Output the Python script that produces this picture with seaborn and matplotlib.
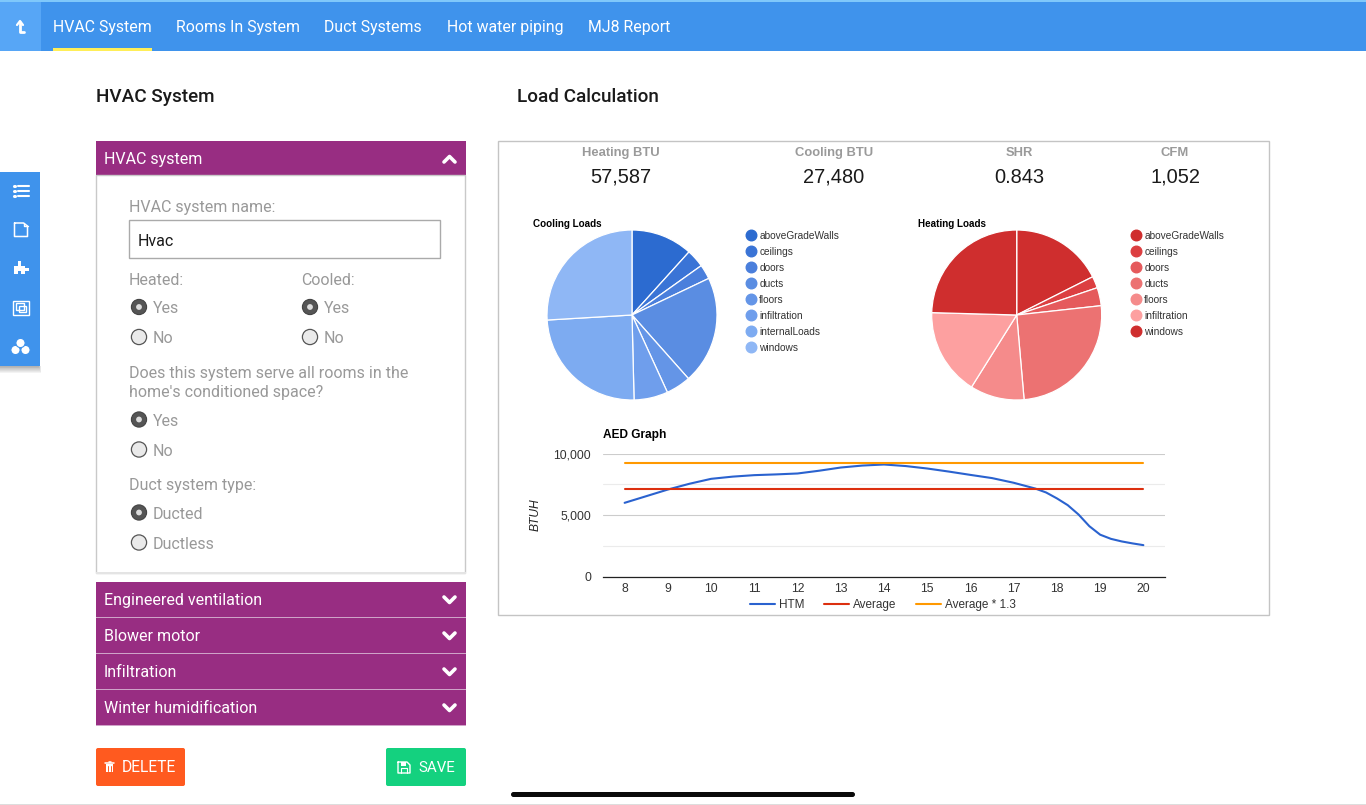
import numpy as np
import pandas as pd
import matplotlib
matplotlib.use("Agg")
import matplotlib.pyplot as plt
from matplotlib.patches import Rectangle, Circle, FancyBboxPatch
from matplotlib.lines import Line2D
import seaborn as sns

# ---------- data ----------
load_names_cool = ["aboveGradeWalls", "ceilings", "doors", "ducts", "floors", "infiltration", "internalLoads", "windows"]
cooling_loads = [3214, 947, 763, 5641, 1298, 1771, 6717, 7129]
load_names_heat = ["aboveGradeWalls", "ceilings", "doors", "ducts", "floors", "infiltration", "windows"]
heating_loads = [10126, 1280, 1984, 14605, 5935, 9518, 14141]
cool_colors = ["#2c6bd0", "#3a74d6", "#4a7fdc", "#5a8de2", "#6495e7", "#6f9eec", "#7dabf1", "#8fb7f5"]
heat_colors = ["#cf2e2e", "#dc3f41", "#e55a5c", "#ec7272", "#f58b8b", "#fda0a0", "#cf2e2e"]
htm_hours = [8, 8.5, 9, 9.5, 10, 10.5, 11, 11.5, 12, 12.5, 13, 13.5, 14, 14.5, 15, 15.5, 16, 16.5, 17, 17.5, 17.75, 18, 18.25, 18.5, 18.75, 19, 19.25, 19.5, 19.75, 20]
htm_values = [5990, 6530, 7070, 7540, 7940, 8120, 8240, 8300, 8375, 8600, 8860, 9020, 9105, 8980, 8780, 8530, 8260, 8000, 7620, 7150, 6830, 6350, 5800, 5040, 4090, 3400, 3060, 2850, 2690, 2550]
avg_hours = [8, 20]
avg_values = [7100, 7100]
avg13_values = [9230, 9230]
hour_ticks = list(range(8, 21))
stat_titles = ["Heating BTU", "Cooling BTU", "SHR", "CFM"]
stat_values = ["57,587", "27,480", "0.843", "1,052"]
nav_items = ["HVAC System", "Rooms In System", "Duct Systems", "Hot water piping", "MJ8 Report"]
section_names = ["Engineered ventilation", "Blower motor", "Infiltration", "Winter humidification"]

# ---------- setup ----------
sns.set_theme(style="white")
W, H = 1366, 805
UI = ["Roboto", "DejaVu Sans"]
CH = ["Liberation Sans", "DejaVu Sans"]
plt.rcParams["font.family"] = CH
fig = plt.figure(figsize=(W / 100, H / 100), dpi=100, facecolor="white")
px = lambda v: v * 0.72


def axes_px(l, t, r, b, **kw):
    return fig.add_axes([l / W, 1 - b / H, (r - l) / W, (b - t) / H], **kw)


ui = axes_px(0, 0, W, H, zorder=0)
ui.set_xlim(0, W)
ui.set_ylim(H, 0)
ui.axis("off")


def rect(x0, y0, x1, y1, fc, ec="none", lw=0, z=1):
    ui.add_patch(Rectangle((x0, y0), x1 - x0, y1 - y0, fc=fc, ec=ec, lw=lw, zorder=z))


def label(x, y, s, size=16, color="#999999", fam=UI, weight="normal", ha="left", z=5):
    ui.text(x, y + 1, s, fontsize=px(size), color=color, family=fam, weight=weight, ha=ha, va="center", zorder=z)


def seg(xs, ys, color="white", lw=1.5, z=6, cap="round"):
    ui.plot(xs, ys, color=color, lw=lw, zorder=z, solid_capstyle=cap, solid_joinstyle="round")


# nav bar
NAV = "#3f93ec"
rect(0, 0, W, 2, "#7fc8fb")
rect(0, 2, W, 51, NAV)
rect(0, 2, 41, 51, "#57a6f6")
seg([20, 20, 24], [22, 32, 32], lw=2)
seg([17, 20, 23], [25, 21, 25], lw=1.6)
for x, s in zip([53, 176, 324, 447, 588], nav_items):
    label(x, 26.5, s, size=15.9, color="white")
rect(53, 48, 152, 51.5, "#ffee58", z=2)

# headings
label(96, 95.5, "HVAC System", size=18.9, color="#1a1a1a", weight="medium")
label(517, 95.5, "Load Calculation", size=18.9, color="#1a1a1a", weight="medium")

# sidebar
for i in range(8):
    rect(0, 366, 41 - i * 0.3, 373 - i * 0.9, (0.35, 0.35, 0.35, 0.07), z=1)
rect(0, 172, 40, 366, NAV, z=2)
for y in [186, 191, 196]:
    seg([18, 28.5], [y, y], lw=1.5)
    seg([13.5, 14.5], [y, y], lw=2.2)
seg([14.5, 14.5, 27.5, 27.5, 23.5, 14.5], [223, 236.5, 236.5, 226, 223, 223], lw=1.1)
seg([23.5, 23.5, 27.5], [223, 226, 226], lw=1)
rect(14, 266, 25, 274, "white", z=6)
rect(18, 261, 21, 267, "white", z=6)
rect(24, 267.5, 29, 270.5, "white", z=6)
rect(17.5, 271, 20.5, 274.5, NAV, z=7)
ui.add_patch(Rectangle((13, 301), 16, 14, fc="none", ec="white", lw=1, zorder=6))
ui.add_patch(Rectangle((16, 303), 8, 7, fc="none", ec="white", lw=1, zorder=6))
ui.add_patch(Rectangle((19, 306), 7, 6, fc="none", ec="white", lw=1, zorder=6))
for cx, cy in [(15.5, 350), (25.5, 350), (20.5, 343)]:
    ui.add_patch(Circle((cx, cy), 4.6, fc="white", ec=NAV, lw=0.8, zorder=6))

# left panel
PUR = "#982d82"
rect(96, 141, 466, 176, PUR)
label(104, 158.7, "HVAC system", size=16, color="white")
seg([444, 449.5, 455], [162, 156.5, 162], lw=2.6)
rect(96, 175.5, 465, 572.5, "white", ec="#c9c9c9", lw=1)
rect(96, 572, 466, 574, "#e4e4e4", z=2)
label(129, 206.3, "HVAC system name:")
rect(129, 220, 440, 258, "white", ec="#aaaaaa", lw=1)
label(138, 240.2, "Hvac", size=16, color="#1a1a1a")
label(129, 279.2, "Heated:")
label(300.7, 279.2, "Cooled:")
label(129, 372, "Does this system serve all rooms in the")
label(129, 391, "home's conditioned space?")
label(129, 484, "Duct system type:")


def radio(x, y, s, on):
    if on:
        ui.add_patch(Circle((x, y), 7.6, fc="#555555", ec="#444444", lw=0.8, zorder=3))
        ui.add_patch(Circle((x, y), 2.9, fc="#dddddd", ec="none", zorder=4))
    else:
        ui.add_patch(Circle((x, y), 7.6, fc="#eaeaea", ec="#555555", lw=0.9, zorder=3))
    label(x + 14, y + 0.5, s)


radio(139, 307, "Yes", True)
radio(139, 337, "No", False)
radio(310, 307, "Yes", True)
radio(310, 337, "No", False)
radio(139, 419.5, "Yes", True)
radio(139, 449.5, "No", False)
radio(139, 512.5, "Ducted", True)
radio(139, 542.5, "Ductless", False)

for i, s in enumerate(section_names):
    y0 = 582 + 36 * i
    rect(96, y0, 466, y0 + 35, PUR)
    rect(96, y0 + 34.5, 466, y0 + 36, "#cfa3c8")
    label(104, y0 + 17, s, size=16, color="white")
    seg([444, 449.5, 455], [y0 + 15, y0 + 20.5, y0 + 15], lw=2.6)

# buttons
ui.add_patch(FancyBboxPatch((96, 748), 89, 38, boxstyle="round,pad=0,rounding_size=2", fc="#ff5a1f", ec="none", zorder=2))
ui.add_patch(FancyBboxPatch((386, 748), 80, 38, boxstyle="round,pad=0,rounding_size=2", fc="#14d17f", ec="none", zorder=2))
label(122, 766.5, "DELETE", size=15.6, color="white")
label(418, 766.5, "SAVE", size=15, color="white")
rect(106, 764, 113, 772, "white", z=4)
seg([105, 114], [763, 763], lw=1.1)
seg([108.5, 110.5], [761.5, 761.5], lw=1.1)
seg([108, 108], [765.5, 770.5], color="#ff5a1f", lw=0.7)
seg([110.5, 110.5], [765.5, 770.5], color="#ff5a1f", lw=0.7)
seg([398, 398, 410, 410, 407, 398], [762, 773, 773, 765, 762, 762], lw=1)
rect(401, 762, 406, 766, "white", z=6)
seg([401, 401, 407, 407], [773, 768, 768, 773], lw=0.8)

# bottom
rect(0, 803.5, W, 805, "#dddddd")
ui.add_patch(FancyBboxPatch((511, 792), 344, 5, boxstyle="round,pad=0,rounding_size=2.5", fc="#0a0a0a", ec="none", zorder=6))

# chart frame
rect(498, 141, 1269, 615, "white", ec="#c4c4c4", lw=1)
for x, t, v in zip([621, 834, 1019, 1175], stat_titles, stat_values):
    label(x, 152, t, size=13, color="#9a9a9a", fam=CH, weight="bold", ha="center")
    label(x, 176.3, v, size=20, color="#1a1a1a", fam=CH, ha="center")


def pie(cx, cy, values, colors, names, title, tx, lx):
    ax = axes_px(cx - 85, cy - 85, cx + 85, cy + 85, zorder=3)
    ax.patch.set_alpha(0)
    ax.pie(values, colors=colors, startangle=90, counterclock=False,
           wedgeprops=dict(edgecolor="white", linewidth=0.9))
    ax.set_xlim(-1, 1)
    ax.set_ylim(-1, 1)
    for w in ax.patches:
        w.set_clip_on(False)
    label(tx, 222.5, title, size=9.9, color="black", fam=CH, weight="bold")
    handles = [Line2D([], [], ls="none", marker="o", ms=7.6, mfc=c, mec=c) for c in colors]
    lax = axes_px(lx, 231, lx + 110, 231 + 16 * len(names) + 2, zorder=4)
    lax.axis("off")
    lax.legend(handles, names, loc="upper left", bbox_to_anchor=(0, 1), frameon=False, borderpad=0,
               borderaxespad=0, handletextpad=0.0, handlelength=1.6, labelspacing=0.59,
               prop=dict(family=CH, size=px(10.1)), labelcolor="#333333")


pie(632, 315, cooling_loads, cool_colors, load_names_cool, "Cooling Loads", 533, 743)
pie(1016.7, 315, heating_loads, heat_colors, load_names_heat, "Heating Loads", 918, 1128)

# line chart
series = ["HTM", "Average", "Average * 1.3"]
df = pd.concat([
    pd.DataFrame({"hour": htm_hours, "btuh": htm_values, "series": series[0]}),
    pd.DataFrame({"hour": avg_hours, "btuh": avg_values, "series": series[1]}),
    pd.DataFrame({"hour": avg_hours, "btuh": avg13_values, "series": series[2]}),
])
ax = axes_px(603, 453.5, 1165, 576.5, zorder=3)
ax.patch.set_alpha(0)
sns.lineplot(data=df, x="hour", y="btuh", hue="series", hue_order=series, sort=False,
             palette=["#2a62cf", "#dc2f0f", "#ff9900"], linewidth=1.5, ax=ax, zorder=4)
ax.set_xlim(7.5, 20.5)
ax.set_ylim(0, 10000)
ax.set_xticks(hour_ticks)
ax.set_yticks([0, 5000, 10000])
ax.set_yticklabels(["0", "5,000", "10,000"])
ax.set_yticks([2500, 7500], minor=True)
ax.grid(True, axis="y", which="major", color="#cccccc", lw=0.8)
ax.grid(True, axis="y", which="minor", color="#ebebeb", lw=0.8)
ax.grid(False, axis="x")
for s in ["top", "left", "right"]:
    ax.spines[s].set_visible(False)
ax.spines["bottom"].set_color("#222222")
ax.spines["bottom"].set_linewidth(0.9)
ax.tick_params(axis="both", which="both", length=0, labelsize=px(12.3), labelcolor="#333333", pad=5)
ax.tick_params(axis="y", pad=8.5)
ax.set_xlabel("")
ax.set_ylabel("BTUH", fontsize=px(12), style="italic", color="#222222")
ax.yaxis.set_label_coords(-0.110, 0.5)
label(603, 434, "AED Graph", size=11.9, color="black", fam=CH, weight="bold")
ax.legend(loc="upper left", bbox_to_anchor=(147 / 562, -0.185), frameon=False, ncol=3, borderpad=0, borderaxespad=0,
          handlelength=2.15, handletextpad=0.33, columnspacing=1.67, prop=dict(family=CH, size=px(11.7)), labelcolor="#333333")

fig.savefig("out.png", dpi=100, facecolor="white")
